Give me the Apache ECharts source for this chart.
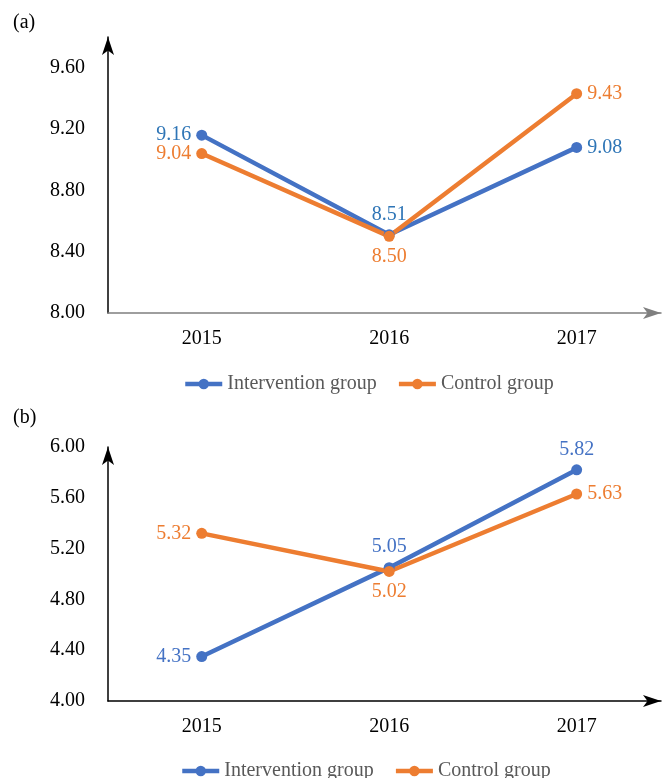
<!DOCTYPE html>
<html>
<head>
<meta charset="utf-8">
<script src="https://cdn.jsdelivr.net/npm/echarts@6/dist/echarts.min.js"></script>
<style>
  html, body { margin: 0; padding: 0; background: #fff; }
  #chart { width: 664px; height: 778px; }
</style>
</head>
<body>
<div id="chart"></div>
<script>
// data
const years = [2015, 2016, 2017];
const seriesNames = ['Intervention group', 'Control group'];
const interventionA = [9.16, 8.51, 9.08];
const controlA = [9.04, 8.50, 9.43];
const interventionB = [4.35, 5.05, 5.82];
const controlB = [5.32, 5.02, 5.63];

const FONT = '"Liberation Serif", "Times New Roman", serif';
const BLUE = '#4472C4';
const ORANGE = '#ED7D31';

const myChart = echarts.init(document.getElementById('chart'));

function points(vals, places) {
  return vals.map((v, i) => ({
    value: [years[i], v],
    label: { position: places[i] }
  }));
}

function line(name, idx, vals, color, labelColor, places) {
  return {
    name,
    type: 'line',
    xAxisIndex: idx,
    yAxisIndex: idx,
    data: points(vals, places),
    symbol: 'circle',
    symbolSize: 11,
    lineStyle: { width: 4.5, color },
    itemStyle: { color },
    label: {
      show: true,
      color: labelColor,
      fontFamily: FONT,
      fontSize: 20,
      distance: 5,
      formatter: p => p.value[1].toFixed(2)
    }
  };
}

function xAxis(idx, lineColor) {
  return {
    type: 'value',
    gridIndex: idx,
    min: 2014.5,
    max: 2017.45,
    interval: 0.5,
    splitLine: { show: false },
    axisTick: { show: false },
    axisLine: {
      lineStyle: { color: lineColor, width: 1.5 },
      symbol: ['none', 'arrow'],
      symbolSize: [9, 18]
    },
    axisLabel: {
      margin: 16,
      color: '#000',
      fontFamily: FONT,
      fontSize: 20,
      formatter: v => (v % 1 === 0 ? String(v) : '')
    }
  };
}

function yAxis(idx, min, max, showMax) {
  return {
    type: 'value',
    gridIndex: idx,
    min,
    max,
    interval: 0.4,
    splitLine: { show: false },
    axisTick: { show: false },
    axisLine: {
      show: true,
      lineStyle: { color: '#000', width: 1.5 },
      symbol: ['none', 'arrow'],
      symbolSize: [9, 18]
    },
    axisLabel: {
      margin: 23,
      color: '#000',
      fontFamily: FONT,
      fontSize: 20,
      showMaxLabel: showMax,
      formatter: v => v.toFixed(2)
    }
  };
}

function legend(top, left) {
  return {
    data: seriesNames,
    top,
    left,
    itemWidth: 37,
    itemHeight: 13,
    itemGap: 20,
    lineStyle: { width: 4.5 },
    textStyle: { color: '#595959', fontFamily: FONT, fontSize: 20 }
  };
}

const option = {
  animation: false,
  backgroundColor: '#fff',
  title: [
    { text: '(a)', left: 8, top: 8, textStyle: { fontFamily: FONT, fontSize: 20, fontWeight: 'normal', color: '#000' } },
    { text: '(b)', left: 8, top: 403, textStyle: { fontFamily: FONT, fontSize: 20, fontWeight: 'normal', color: '#000' } }
  ],
  legend: [legend(369, 178), legend(756, 175)],
  grid: [
    { left: 108, top: 37, width: 556, height: 276 },
    { left: 108, top: 447, width: 556, height: 254 }
  ],
  xAxis: [xAxis(0, '#7f7f7f'), xAxis(1, '#000')],
  yAxis: [yAxis(0, 8, 9.8, false), yAxis(1, 4, 6, true)],
  series: [
    line(seriesNames[0], 0, interventionA, BLUE, '#2E75B6', ['left', 'top', 'right']),
    line(seriesNames[1], 0, controlA, ORANGE, ORANGE, ['left', 'bottom', 'right']),
    line(seriesNames[0], 1, interventionB, BLUE, BLUE, ['left', 'top', 'top']),
    line(seriesNames[1], 1, controlB, ORANGE, ORANGE, ['left', 'bottom', 'right'])
  ]
};

myChart.setOption(option);
window.addEventListener('resize', () => {
  myChart.resize();
});
</script>
</body>
</html>
